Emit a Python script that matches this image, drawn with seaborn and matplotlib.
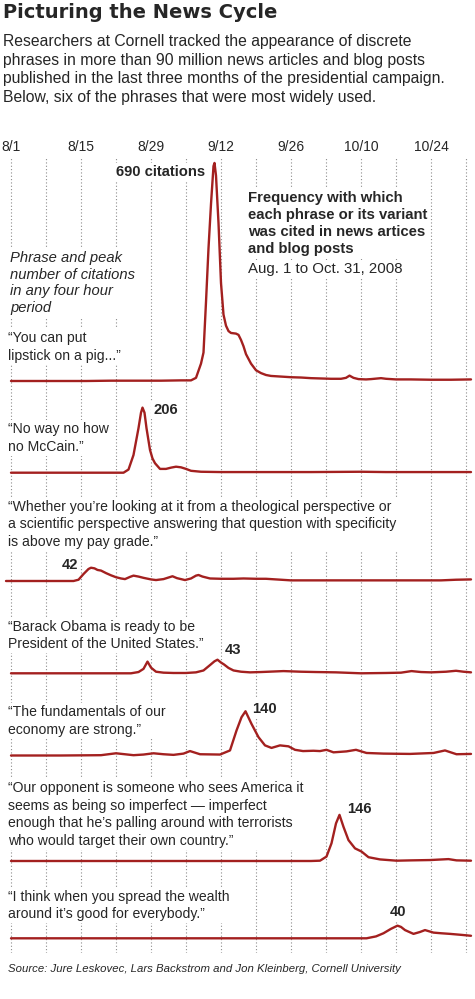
import numpy as np
import pandas as pd
import matplotlib.pyplot as plt
import seaborn as sns

# data (day 0 = Aug. 1, 2008; values = citations per 4 hours)
start = pd.Timestamp('2008-08-01')
tick_labels = ['8/1', '8/15', '8/29', '9/12', '9/26', '10/10', '10/24']

phrases = [
    '\u201cYou can put\nlipstick on a pig...\u201d',
    '\u201cNo way no how\nno McCain.\u201d',
    '\u201cWhether you\u2019re looking at it from a theological perspective or\n'
    'a scientific perspective answering that question with specificity\n'
    'is above my pay grade.\u201d',
    '\u201cBarack Obama is ready to be\nPresident of the United States.\u201d',
    '\u201cThe fundamentals of our\neconomy are strong.\u201d',
    '\u201cOur opponent is someone who sees America it\n'
    'seems as being so imperfect \u2014 imperfect\n'
    'enough that he\u2019s palling around with terrorists\n'
    'who would target their own country.\u201d',
    '\u201cI think when you spread the wealth\naround it\u2019s good for everybody.\u201d',
]
peak_labels = ['690 citations', '206', '42', '43', '140', '146', '40']

lipstick_days = [0, 5, 10, 15, 20, 25, 30, 34, 36, 37, 38, 38.5, 39, 39.5, 40, 40.5, 40.7, 41, 41.5,
                 42, 42.5, 43, 43.5, 44, 45, 45.5, 46, 46.5, 47, 48, 49, 50, 51, 52, 54, 56, 58, 60,
                 62, 64, 66, 67, 67.7, 68.5, 69.5, 71, 72, 74, 75, 77, 80, 84, 88, 92]
lipstick_vals = [0, 0, 0, 0, 1, 1, 1, 2, 2, 10, 55, 90, 250, 420, 560, 680, 690, 650, 500,
                 310, 210, 175, 158, 152, 150, 146, 130, 110, 85, 55, 34, 25, 19, 16, 14, 12, 11, 9,
                 8, 7, 7, 10, 17, 10, 6, 5, 6, 9, 7, 5, 5, 4, 4, 5]

noway_days = [0, 10, 20, 22.5, 23.5, 24.5, 25.5, 26, 26.3, 26.7, 27.1, 27.8, 28.3, 28.8, 29.8,
              31, 32, 33, 34, 35, 36, 38, 42, 50, 60, 70, 75, 85, 92]
noway_vals = [0, 0, 0, 0, 10, 56, 141, 190, 206, 190, 141, 72, 45, 30, 12,
              12, 16, 19, 17, 12, 6, 3, 2, 2, 2, 3, 2, 2, 2]

paygrade_days = [-1, 5, 10, 12.5, 13.5, 14.5, 15.5, 16, 16.7, 17.3, 18, 19, 20, 21, 22, 22.8, 23.8,
                 24.5, 25.5, 26.5, 28, 29, 30.5, 31.5, 32.3, 33.2, 34.8, 36, 37, 37.5, 38.3, 39.8,
                 42, 44.5, 46.5, 49, 51, 53, 56, 60, 70, 80, 86, 89, 92]
paygrade_vals = [0, 0, 0, 0, 4, 22, 38, 42, 40, 35, 33, 25, 18, 12, 8, 6, 13,
                 17, 14, 10, 5, 3, 6, 11, 15, 9, 3, 8, 17, 19, 14, 8,
                 7, 7, 8, 7, 7, 5, 2, 2, 2, 2, 2, 4, 5]

ready_days = [0, 10, 20, 24, 25.5, 26.5, 27.3, 28, 29, 30.5, 32.5, 35, 37, 38.5, 39.8, 40.7, 41.3,
              42, 42.6, 43.5, 44.5, 46, 47.8, 50, 54.5, 58, 61, 65, 70, 75, 78, 80.1, 82, 84, 87,
              89, 90.5, 92]
ready_vals = [0, 0, 0, 0, 4, 14, 37, 18, 5, 2, 1, 1, 3, 9, 26, 38, 43,
              34, 28, 17, 9, 5, 3, 4, 7, 5, 4, 3, 0, 1, 2, 7, 4, 3, 5,
              8, 5, 3]

fundamentals_days = [0, 10, 18, 21, 24.5, 26.5, 28.5, 30.5, 32.5, 34.5, 35.8, 37.8, 41.8, 43.8,
                     45.1, 46.1, 46.9, 48.1, 49.5, 50.8, 52.1, 53.8, 55.5, 56.8, 58.4, 60.5, 61.8,
                     63.1, 64.5, 67.1, 69, 71.1, 74.5, 79.8, 84.5, 86.8, 89.1, 92]
fundamentals_vals = [0, 0, 1, 7, 1, 3, 7, 4, 2, 6, 14, 4, 3, 16,
                     79, 121, 140, 100, 58, 32, 24, 32, 29, 18, 14, 15, 14,
                     18, 10, 13, 18, 8, 6, 5, 8, 16, 4, 5]

opponent_days = [0, 10, 20, 30, 40, 50, 60, 61.8, 63.1, 64.1, 65, 65.7, 66.5, 67.5, 68.8, 70.1,
                 71.5, 73.8, 77.1, 80, 83.8, 87.5, 89.1, 92]
opponent_vals = [0, 0, 0, 0, 0, 0, 0, 1, 14, 56, 119, 146, 108, 66, 40, 30,
                 12, 5, 1, 2, 3, 6, 2, 1]

wealth_days = [0, 10, 20, 30, 40, 50, 60, 70, 71.1, 73, 74.5, 76, 77.3, 78, 78.8, 80.5, 81.8,
               82.8, 84.5, 86, 87.8, 90, 92]
wealth_vals = [0, 0, 0, 0, 0, 0, 0, 0, 0, 6, 16, 30, 40, 36, 26, 14, 20,
               26, 18, 16, 14, 11, 8]

days_list = [lipstick_days, noway_days, paygrade_days, ready_days,
             fundamentals_days, opponent_days, wealth_days]
vals_list = [lipstick_vals, noway_vals, paygrade_vals, ready_vals,
             fundamentals_vals, opponent_vals, wealth_vals]

# layout (pixels in the 475x999 picture)
W, H = 475, 999
AX_TOP, AX_BOTTOM = 157, 953
PX_PER_CIT = 0.316
baselines = [381, 472.7, 581, 673.3, 755.5, 861, 938.3]
# baseline of the last line of each phrase
phrase_baselines = [360, 450.7, 546, 648.3, 734, 845, 918.3]
# label offsets from the peak, in pixels (dx, dy up, ha)
label_offsets = [(-9.5, -13, 'right'), (10.5, -6.6, 'left'), (-13, -1.7, 'right'),
                 (7.5, 5.4, 'left'), (6.5, -1.3, 'left'), (7.5, 2.3, 'left'), (0, 9.7, 'center')]
RED = '#a3201f'

sns.set_style('white')
plt.rcParams['font.family'] = ['Liberation Sans', 'DejaVu Sans']

rows = []
for name, d, v, b in zip(phrases, days_list, vals_list, baselines):
    off = (AX_BOTTOM - b) / PX_PER_CIT
    for dd, vv in zip(d, v):
        rows.append({'phrase': name, 'date': start + pd.Timedelta(days=dd), 'y': vv + off})
df = pd.DataFrame(rows)

fig = plt.figure(figsize=(W / 100, H / 100), dpi=100)
ax = fig.add_axes([0, 1 - AX_BOTTOM / H, 1, (AX_BOTTOM - AX_TOP) / H])
ax.patch.set_alpha(0)

sns.lineplot(data=df, x='date', y='y', hue='phrase', palette={p: RED for p in phrases},
             estimator=None, legend=False, linewidth=1.7, ax=ax, zorder=4)

ax.set_xlim(start - pd.Timedelta(days=2.2), start + pd.Timedelta(days=92.8))
ax.set_ylim(0, (AX_BOTTOM - AX_TOP) / PX_PER_CIT)
ax.set_xticks([start + pd.Timedelta(days=14 * i) for i in range(len(tick_labels))])
ax.set_xticklabels(tick_labels)
ax.set_xticks([start + pd.Timedelta(days=7 * i) for i in range(14)], minor=True)
ax.xaxis.tick_top()
ax.tick_params(axis='x', which='both', length=0, pad=2.5, labelsize=10)
ax.set_yticks([])
ax.set_xlabel('')
ax.set_ylabel('')
ax.grid(axis='x', which='both', linestyle=(0, (1, 2)), color='#8c8c8c', linewidth=0.8)
for s in ax.spines.values():
    s.set_visible(False)

box = dict(facecolor='white', edgecolor='none', pad=1.5)
ftr = fig.transFigure

# peak labels
for lab, d, v, b, (dx, dy, ha) in zip(peak_labels, days_list, vals_list, baselines, label_offsets):
    i = int(np.argmax(v))
    off = (AX_BOTTOM - b) / PX_PER_CIT
    ax.annotate(lab, xy=(start + pd.Timedelta(days=d[i]), v[i] + off),
                xytext=(dx, dy), textcoords='offset pixels', ha=ha, va='baseline',
                fontsize=10.6, fontweight='bold', bbox=box, zorder=3)

# phrases (kept under the red lines, over the grid)
for txt, yb in zip(phrases, phrase_baselines):
    ax.text(8 / W, 1 - yb / H, txt, transform=ftr, ha='left', va='baseline', fontsize=10.1,
            linespacing=1.34, bbox=box, zorder=3)

fig.text(3 / W, 1 - 18.3 / H, 'Picturing the News Cycle', fontsize=14, fontweight='heavy',
         family=['DejaVu Sans'], ha='left', va='baseline')
fig.text(3 / W, 1 - 102 / H,
         'Researchers at Cornell tracked the appearance of discrete\n'
         'phrases in more than 90 million news articles and blog posts\n'
         'published in the last three months of the presidential campaign.\n'
         'Below, six of the phrases that were most widely used.',
         fontsize=11.3, ha='left', va='baseline', linespacing=1.3)
ax.text(10 / W, 1 - 311.7 / H,
        'Phrase and peak\nnumber of citations\nin any four hour\nperiod', transform=ftr,
        fontsize=10.6, style='italic', ha='left', va='baseline', linespacing=1.23, bbox=box, zorder=3)
ax.text(248 / W, 1 - 253.3 / H,
        'Frequency with which\neach phrase or its variant\nwas cited in news artices\nand blog posts',
        transform=ftr, fontsize=10.75, fontweight='bold', ha='left', va='baseline',
        linespacing=1.27, bbox=box, zorder=3)
ax.text(248 / W, 1 - 273.3 / H, 'Aug. 1 to Oct. 31, 2008', transform=ftr, fontsize=10.85,
        ha='left', va='baseline', bbox=box, zorder=3)
fig.text(8 / W, 1 - 971.7 / H,
         'Source: Jure Leskovec, Lars Backstrom and Jon Kleinberg, Cornell University',
         fontsize=8.2, style='italic', ha='left', va='baseline')

fig.savefig('out.png', dpi=100)
